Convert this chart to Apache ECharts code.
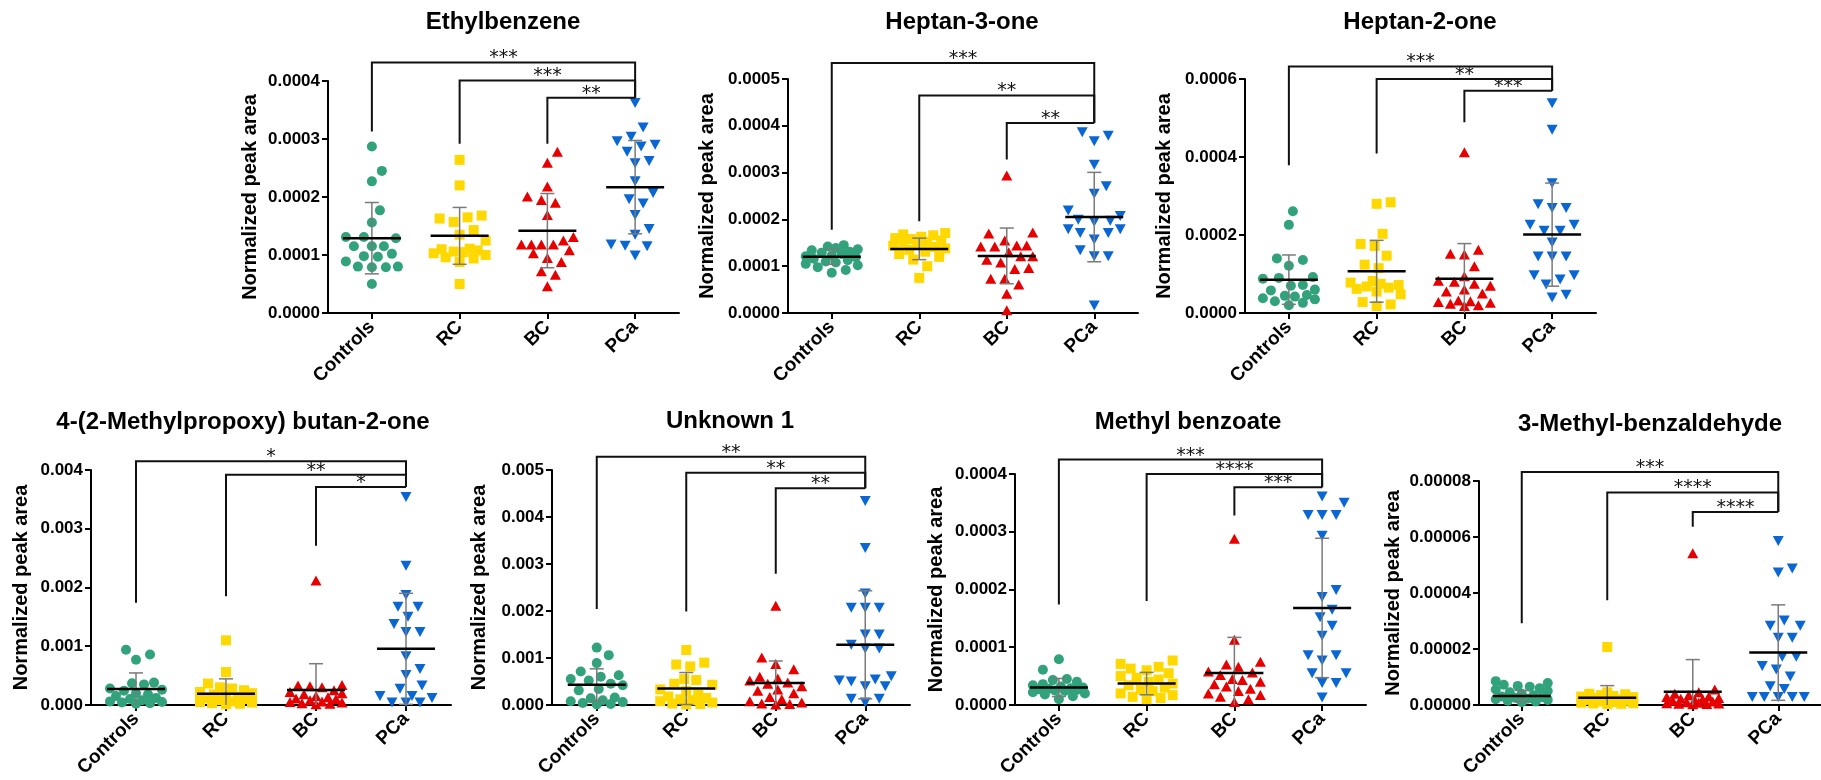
<!DOCTYPE html>
<html>
<head>
<meta charset="utf-8">
<title>Normalized peak area by group</title>
<script src="https://cdn.jsdelivr.net/npm/echarts@6/dist/echarts.min.js"></script>
<style>
  html, body { margin: 0; padding: 0; background: #fff; }
  #chart { width: 1821px; height: 780px; }
</style>
</head>
<body>
<div id="chart"></div>
<script>
'use strict';

var groups = ['Controls', 'RC', 'BC', 'PCa'];
var titles = ['Ethylbenzene', 'Heptan-3-one', 'Heptan-2-one', '4-(2-Methylpropoxy) butan-2-one',
    'Unknown 1', 'Methyl benzoate', '3-Methyl-benzaldehyde'];
var axisMax = [0.0004, 0.0005, 0.0006, 0.004, 0.005, 0.0004, 0.00008];
var axisStep = [0.0001, 0.0001, 0.0002, 0.001, 0.001, 0.0001, 0.00002];
var tickDecimals = [4, 4, 4, 3, 3, 4, 5];

// values per group: Controls, RC, BC, PCa
var ethylbenzeneValues = [
    [2.87e-4, 2.45e-4, 2.27e-4, 1.77e-4, 1.56e-4, 1.31e-4, 1.31e-4, 1.29e-4, 1.15e-4, 1.15e-4, 1.15e-4, 1.02e-4, 0.98e-4, 0.97e-4, 0.89e-4, 0.80e-4, 0.80e-4, 0.79e-4, 0.79e-4, 0.50e-4],
    [2.64e-4, 2.20e-4, 1.68e-4, 1.65e-4, 1.63e-4, 1.57e-4, 1.43e-4, 1.35e-4, 1.25e-4, 1.11e-4, 1.10e-4, 1.08e-4, 1.06e-4, 1.05e-4, 1.03e-4, 1.00e-4, 0.96e-4, 0.94e-4, 0.88e-4, 0.50e-4],
    [2.78e-4, 2.59e-4, 2.18e-4, 2.01e-4, 1.95e-4, 1.90e-4, 1.69e-4, 1.31e-4, 1.25e-4, 1.18e-4, 1.18e-4, 1.18e-4, 1.18e-4, 1.08e-4, 1.03e-4, 0.95e-4, 0.88e-4, 0.72e-4, 0.66e-4, 0.46e-4],
    [3.62e-4, 3.20e-4, 3.04e-4, 2.96e-4, 2.90e-4, 2.87e-4, 2.78e-4, 2.62e-4, 2.58e-4, 2.27e-4, 2.07e-4, 1.96e-4, 1.89e-4, 1.69e-4, 1.45e-4, 1.35e-4, 1.18e-4, 1.16e-4, 1.15e-4, 0.99e-4]
];
var ethylbenzeneMeans = [1.29e-4, 1.33e-4, 1.42e-4, 2.17e-4];
var ethylbenzeneSD = [0.615e-4, 0.49e-4, 0.64e-4, 0.805e-4];
var ethylbenzeneBrackets = [4.32e-4, 4.01e-4, 3.71e-4];
var ethylbenzeneDrops = [3.13e-4, 2.92e-4, 2.92e-4];
var ethylbenzeneStars = ['***', '***', '**'];

var heptan3oneValues = [
    [1.45e-4, 1.42e-4, 1.39e-4, 1.36e-4, 1.34e-4, 1.31e-4, 1.29e-4, 1.26e-4, 1.23e-4, 1.21e-4, 1.19e-4, 1.16e-4, 1.13e-4, 1.10e-4, 1.08e-4, 1.05e-4, 1.02e-4, 0.98e-4, 0.92e-4, 0.86e-4],
    [1.71e-4, 1.68e-4, 1.66e-4, 1.63e-4, 1.60e-4, 1.58e-4, 1.55e-4, 1.52e-4, 1.50e-4, 1.47e-4, 1.44e-4, 1.41e-4, 1.38e-4, 1.35e-4, 1.31e-4, 1.26e-4, 1.20e-4, 1.14e-4, 1.00e-4, 0.75e-4],
    [2.94e-4, 1.72e-4, 1.70e-4, 1.55e-4, 1.44e-4, 1.44e-4, 1.42e-4, 1.42e-4, 1.30e-4, 1.21e-4, 1.21e-4, 1.14e-4, 1.08e-4, 0.96e-4, 0.94e-4, 0.73e-4, 0.73e-4, 0.61e-4, 0.41e-4, 0.06e-4],
    [3.86e-4, 3.79e-4, 3.67e-4, 3.17e-4, 2.71e-4, 2.55e-4, 2.19e-4, 2.07e-4, 1.99e-4, 1.97e-4, 1.95e-4, 1.79e-4, 1.79e-4, 1.71e-4, 1.71e-4, 1.57e-4, 1.34e-4, 1.21e-4, 1.21e-4, 0.16e-4]
];
var heptan3oneMeans = [1.20e-4, 1.37e-4, 1.22e-4, 2.05e-4];
var heptan3oneSD = [0.16e-4, 0.23e-4, 0.595e-4, 0.955e-4];
var heptan3oneBrackets = [5.34e-4, 4.65e-4, 4.06e-4];
var heptan3oneDrops = [1.78e-4, 1.96e-4, 3.28e-4];
var heptan3oneStars = ['***', '**', '**'];

var heptan2oneValues = [
    [2.61e-4, 2.26e-4, 1.40e-4, 1.36e-4, 1.21e-4, 0.92e-4, 0.90e-4, 0.88e-4, 0.72e-4, 0.70e-4, 0.60e-4, 0.58e-4, 0.46e-4, 0.44e-4, 0.42e-4, 0.38e-4, 0.35e-4, 0.30e-4, 0.26e-4, 0.20e-4],
    [2.84e-4, 2.80e-4, 2.03e-4, 1.77e-4, 1.72e-4, 1.47e-4, 1.24e-4, 1.15e-4, 0.82e-4, 0.78e-4, 0.75e-4, 0.72e-4, 0.68e-4, 0.65e-4, 0.62e-4, 0.55e-4, 0.48e-4, 0.28e-4, 0.22e-4, 0.18e-4],
    [4.12e-4, 1.62e-4, 1.52e-4, 1.50e-4, 1.20e-4, 0.94e-4, 0.83e-4, 0.80e-4, 0.75e-4, 0.70e-4, 0.60e-4, 0.55e-4, 0.50e-4, 0.32e-4, 0.30e-4, 0.28e-4, 0.26e-4, 0.24e-4, 0.20e-4, 0.18e-4],
    [5.38e-4, 4.70e-4, 3.33e-4, 2.79e-4, 2.69e-4, 2.69e-4, 2.26e-4, 2.26e-4, 2.11e-4, 2.11e-4, 1.81e-4, 1.45e-4, 1.45e-4, 1.45e-4, 0.97e-4, 0.97e-4, 0.86e-4, 0.73e-4, 0.47e-4, 0.40e-4]
];
var heptan2oneMeans = [0.855e-4, 1.07e-4, 0.88e-4, 2.01e-4];
var heptan2oneSD = [0.633e-4, 0.793e-4, 0.90e-4, 1.323e-4];
var heptan2oneBrackets = [6.32e-4, 6.00e-4, 5.70e-4];
var heptan2oneDrops = [3.79e-4, 4.09e-4, 4.89e-4];
var heptan2oneStars = ['***', '**', '***'];

var methylpropoxyValues = [
    [9.4e-4, 8.6e-4, 7.7e-4, 3.8e-4, 3.7e-4, 3.5e-4, 2.8e-4, 2.6e-4, 2.4e-4, 2.0e-4, 1.8e-4, 1.5e-4, 1.2e-4, 1.0e-4, 0.8e-4, 0.6e-4, 0.5e-4, 0.4e-4, 0.3e-4, 0.2e-4],
    [1.10e-3, 5.6e-4, 3.65e-4, 3.0e-4, 2.8e-4, 2.5e-4, 2.2e-4, 2.0e-4, 1.8e-4, 1.6e-4, 1.4e-4, 1.2e-4, 1.0e-4, 0.8e-4, 0.6e-4, 0.5e-4, 0.4e-4, 0.3e-4, 0.2e-4, 0.1e-4],
    [2.12e-3, 3.4e-4, 3.3e-4, 3.2e-4, 3.0e-4, 2.5e-4, 2.2e-4, 2.0e-4, 1.8e-4, 1.5e-4, 1.3e-4, 1.1e-4, 1.0e-4, 0.8e-4, 0.6e-4, 0.5e-4, 0.4e-4, 0.3e-4, 0.2e-4, 0.1e-4],
    [3.54e-3, 2.37e-3, 1.87e-3, 1.67e-3, 1.67e-3, 1.50e-3, 1.38e-3, 1.24e-3, 1.24e-3, 8.3e-4, 6.1e-4, 5.1e-4, 3.3e-4, 2.75e-4, 1.5e-4, 1.5e-4, 1.2e-4, 0.4e-4, 0.4e-4, 0.4e-4]
];
var methylpropoxyMeans = [2.7e-4, 1.91e-4, 2.53e-4, 9.55e-4];
var methylpropoxySD = [2.75e-4, 2.53e-4, 4.49e-4, 9.45e-4];
var methylpropoxyBrackets = [4.15e-3, 3.92e-3, 3.71e-3];
var methylpropoxyDrops = [1.74e-3, 1.85e-3, 2.71e-3];
var methylpropoxyStars = ['*', '**', '*'];

var unknown1Values = [
    [1.22e-3, 1.06e-3, 8.9e-4, 7.1e-4, 6.3e-4, 6.0e-4, 5.5e-4, 5.2e-4, 4.5e-4, 4.2e-4, 3.4e-4, 3.1e-4, 1.6e-4, 1.4e-4, 1.0e-4, 0.8e-4, 0.6e-4, 0.4e-4, 0.2e-4, 0.1e-4],
    [1.17e-3, 9.0e-4, 8.6e-4, 8.2e-4, 5.5e-4, 5.3e-4, 4.5e-4, 4.3e-4, 3.3e-4, 3.0e-4, 2.2e-4, 1.8e-4, 1.5e-4, 1.2e-4, 1.0e-4, 0.8e-4, 0.5e-4, 0.3e-4, 0.2e-4, 0.1e-4],
    [2.11e-3, 1.01e-3, 8.7e-4, 7.6e-4, 6.0e-4, 5.6e-4, 5.2e-4, 4.8e-4, 4.5e-4, 4.0e-4, 3.3e-4, 3.0e-4, 2.5e-4, 1.7e-4, 1.2e-4, 0.8e-4, 0.5e-4, 0.3e-4, 0.2e-4, 0.1e-4],
    [4.34e-3, 3.34e-3, 2.37e-3, 2.07e-3, 2.07e-3, 2.07e-3, 1.50e-3, 1.50e-3, 1.28e-3, 1.20e-3, 1.20e-3, 6.1e-4, 5.4e-4, 5.2e-4, 5.0e-4, 4.0e-4, 4.0e-4, 1.3e-4, 1.3e-4, 0.5e-4]
];
var unknown1Means = [4.32e-4, 3.49e-4, 4.67e-4, 1.28e-3];
var unknown1SD = [3.36e-4, 3.41e-4, 4.68e-4, 1.15e-3];
var unknown1Brackets = [5.28e-3, 4.94e-3, 4.61e-3];
var unknown1Drops = [2.04e-3, 1.99e-3, 2.79e-3];
var unknown1Stars = ['**', '**', '**'];

var methylBenzoateValues = [
    [0.79e-4, 0.61e-4, 0.45e-4, 0.43e-4, 0.40e-4, 0.36e-4, 0.34e-4, 0.32e-4, 0.30e-4, 0.29e-4, 0.28e-4, 0.27e-4, 0.26e-4, 0.25e-4, 0.24e-4, 0.22e-4, 0.20e-4, 0.18e-4, 0.15e-4, 0.10e-4],
    [0.77e-4, 0.71e-4, 0.66e-4, 0.63e-4, 0.60e-4, 0.55e-4, 0.50e-4, 0.47e-4, 0.44e-4, 0.40e-4, 0.37e-4, 0.34e-4, 0.30e-4, 0.27e-4, 0.24e-4, 0.20e-4, 0.17e-4, 0.14e-4, 0.12e-4, 0.10e-4],
    [2.88e-4, 1.13e-4, 0.75e-4, 0.70e-4, 0.66e-4, 0.58e-4, 0.56e-4, 0.52e-4, 0.45e-4, 0.43e-4, 0.40e-4, 0.36e-4, 0.32e-4, 0.28e-4, 0.24e-4, 0.20e-4, 0.17e-4, 0.14e-4, 0.10e-4, 0.05e-4],
    [3.61e-4, 3.50e-4, 3.29e-4, 3.29e-4, 3.29e-4, 2.93e-4, 1.99e-4, 1.87e-4, 1.65e-4, 1.52e-4, 1.37e-4, 1.20e-4, 0.86e-4, 0.86e-4, 0.77e-4, 0.55e-4, 0.55e-4, 0.38e-4, 0.38e-4, 0.13e-4]
];
var methylBenzoateMeans = [0.302e-4, 0.37e-4, 0.553e-4, 1.68e-4];
var methylBenzoateSD = [0.157e-4, 0.194e-4, 0.617e-4, 1.207e-4];
var methylBenzoateBrackets = [4.25e-4, 4.00e-4, 3.77e-4];
var methylBenzoateDrops = [1.74e-4, 1.80e-4, 3.28e-4];
var methylBenzoateStars = ['***', '****', '***'];

var methylBenzaldehydeValues = [
    [8.5e-6, 7.8e-6, 7.2e-6, 6.8e-6, 6.5e-6, 6.0e-6, 5.5e-6, 5.0e-6, 4.5e-6, 4.0e-6, 3.5e-6, 3.0e-6, 2.8e-6, 2.5e-6, 2.2e-6, 2.0e-6, 1.8e-6, 1.5e-6, 1.2e-6, 1.0e-6],
    [20.7e-6, 4.5e-6, 4.0e-6, 3.8e-6, 3.5e-6, 3.2e-6, 3.0e-6, 2.8e-6, 2.5e-6, 2.2e-6, 2.0e-6, 1.8e-6, 1.5e-6, 1.2e-6, 1.0e-6, 0.8e-6, 0.6e-6, 0.5e-6, 0.4e-6, 0.3e-6],
    [54.2e-6, 5.5e-6, 4.5e-6, 4.0e-6, 3.5e-6, 3.0e-6, 2.8e-6, 2.5e-6, 2.2e-6, 2.0e-6, 1.8e-6, 1.5e-6, 1.2e-6, 1.0e-6, 0.8e-6, 0.6e-6, 0.5e-6, 0.4e-6, 0.3e-6, 0.2e-6],
    [58.6e-6, 48.7e-6, 47.3e-6, 30.2e-6, 28.3e-6, 28.3e-6, 24.0e-6, 24.0e-6, 17.2e-6, 17.2e-6, 13.9e-6, 12.7e-6, 10.2e-6, 6.7e-6, 5.7e-6, 2.8e-6, 2.8e-6, 2.8e-6, 2.8e-6, 2.8e-6]
];
var methylBenzaldehydeMeans = [3.2e-6, 2.6e-6, 4.7e-6, 18.7e-6];
var methylBenzaldehydeSD = [1.95e-6, 4.3e-6, 11.5e-6, 17.05e-6];
var methylBenzaldehydeBrackets = [83.2e-6, 75.9e-6, 68.9e-6];
var methylBenzaldehydeDrops = [29.2e-6, 37.4e-6, 63.7e-6];
var methylBenzaldehydeStars = ['***', '****', '****'];

var panels = [
    { values: ethylbenzeneValues, means: ethylbenzeneMeans, sd: ethylbenzeneSD, brackets: ethylbenzeneBrackets, drops: ethylbenzeneDrops, stars: ethylbenzeneStars },
    { values: heptan3oneValues, means: heptan3oneMeans, sd: heptan3oneSD, brackets: heptan3oneBrackets, drops: heptan3oneDrops, stars: heptan3oneStars },
    { values: heptan2oneValues, means: heptan2oneMeans, sd: heptan2oneSD, brackets: heptan2oneBrackets, drops: heptan2oneDrops, stars: heptan2oneStars },
    { values: methylpropoxyValues, means: methylpropoxyMeans, sd: methylpropoxySD, brackets: methylpropoxyBrackets, drops: methylpropoxyDrops, stars: methylpropoxyStars },
    { values: unknown1Values, means: unknown1Means, sd: unknown1SD, brackets: unknown1Brackets, drops: unknown1Drops, stars: unknown1Stars },
    { values: methylBenzoateValues, means: methylBenzoateMeans, sd: methylBenzoateSD, brackets: methylBenzoateBrackets, drops: methylBenzoateDrops, stars: methylBenzoateStars },
    { values: methylBenzaldehydeValues, means: methylBenzaldehydeMeans, sd: methylBenzaldehydeSD, brackets: methylBenzaldehydeBrackets, drops: methylBenzaldehydeDrops, stars: methylBenzaldehydeStars }
];

// layout
var FONT = '"Liberation Sans", Arial, Helvetica, sans-serif';
var gridRects = [
    { left: 328, top: 81, width: 351, height: 232 },
    { left: 788, top: 79, width: 350, height: 234 },
    { left: 1245, top: 79, width: 351, height: 234 },
    { left: 91, top: 470, width: 360, height: 237 },
    { left: 552, top: 470, width: 358, height: 239 },
    { left: 1015, top: 474, width: 351, height: 234 },
    { left: 1479, top: 481, width: 342, height: 228 }
];
var nameGaps = [68, 71, 71, 60, 63, 69, 76];
var titleSpots = [[503, 22], [962, 22], [1420, 22], [243, 422], [730, 421], [1188, 422], [1650, 424]];

var markers = [
    { symbol: 'circle', size: 10, rotate: 0, color: '#31a27c' },
    { symbol: 'rect', size: 10, rotate: 0, color: '#ffd800' },
    { symbol: 'triangle', size: [11, 10], rotate: 0, color: '#e60000' },
    { symbol: 'triangle', size: [11, 10], rotate: 180, color: '#0a66d2' }
];

var SWARM_STEP = 2;
var SWARM_HALF = 26;
var SWARM_DIAM = 14;
var MEAN_HALF = 29;
var CAP_HALF = 7;

// simple beeswarm: push each point sideways until it clears the ones already placed
function swarmOffsets(values, pxPerUnit) {
    var order = values.map(function (v, i) { return i; })
        .sort(function (a, b) { return values[a] - values[b]; });
    var placed = [];
    var offsets = new Array(values.length);

    order.forEach(function (i) {
        var y = values[i] * pxPerUnit;
        var best = 0;
        var bestGap = -Infinity;
        var maxSteps = Math.floor(SWARM_HALF / SWARM_STEP);

        for (var k = 0; k <= 2 * maxSteps; k++) {
            var x = Math.ceil(k / 2) * (k % 2 ? 1 : -1) * SWARM_STEP;
            var minD = Infinity;
            placed.forEach(function (p) {
                var d = Math.sqrt((p.x - x) * (p.x - x) + (p.y - y) * (p.y - y));
                if (d < minD) {
                    minD = d;
                }
            });
            if (minD >= SWARM_DIAM) {
                best = x;
                break;
            }
            if (minD > bestGap) {
                bestGap = minD;
                best = x;
            }
        }

        placed.push({ x: best, y: y });
        offsets[i] = best;
    });

    return offsets;
}

function renderSummary(params, api) {
    var idx = api.value(0);
    var mean = api.value(1);
    var sd = api.value(2);
    var c = api.coord([idx, mean]);
    var hi = api.coord([idx, mean + sd]);
    var lo = api.coord([idx, Math.max(0, mean - sd)]);
    var gray = { stroke: '#7a7a7a', lineWidth: 1.5 };
    var children = [
        { type: 'line', shape: { x1: c[0], y1: hi[1], x2: c[0], y2: lo[1] }, style: gray },
        { type: 'line', shape: { x1: c[0] - CAP_HALF, y1: hi[1], x2: c[0] + CAP_HALF, y2: hi[1] }, style: gray }
    ];
    if (mean - sd > 0) {
        children.push({ type: 'line', shape: { x1: c[0] - CAP_HALF, y1: lo[1], x2: c[0] + CAP_HALF, y2: lo[1] }, style: gray });
    }
    children.push({
        type: 'line',
        shape: { x1: c[0] - MEAN_HALF, y1: c[1], x2: c[0] + MEAN_HALF, y2: c[1] },
        style: { stroke: '#000', lineWidth: 2.5 }
    });
    return { type: 'group', children: children };
}

function makeBracketRenderer(panel) {
    var lowest = Math.min.apply(null, panel.brackets);
    return function (params, api) {
        var from = api.value(0);
        var level = api.value(1);
        var drop = api.value(2);
        var last = groups.length - 1;
        var a = api.coord([from, drop]);
        var b = api.coord([from, level]);
        var r = api.coord([last, level]);
        var rLow = api.coord([last, lowest]);
        return {
            type: 'group',
            children: [
                {
                    type: 'polyline',
                    shape: { points: [[a[0], a[1]], [b[0], b[1]], [r[0], r[1]], [rLow[0], rLow[1]]] },
                    style: { stroke: '#111', lineWidth: 2, fill: null }
                },
                {
                    type: 'text',
                    x: (b[0] + r[0]) / 2,
                    y: b[1] - 4,
                    style: {
                        text: panel.stars[params.dataIndex],
                        fill: '#111',
                        fontSize: 19,
                        fontFamily: '"DejaVu Sans", sans-serif',
                        align: 'center',
                        verticalAlign: 'middle',
                        textAlign: 'center',
                        textVerticalAlign: 'middle'
                    }
                }
            ]
        };
    };
}

var option = {
    animation: false,
    backgroundColor: '#fff',
    grid: [],
    xAxis: [],
    yAxis: [],
    series: [],
    graphic: []
};

panels.forEach(function (panel, k) {
    var rect = gridRects[k];
    option.grid.push({ left: rect.left, top: rect.top, width: rect.width, height: rect.height });

    option.xAxis.push({
        type: 'category',
        gridIndex: k,
        data: groups,
        boundaryGap: true,
        axisLine: { show: true, lineStyle: { color: '#000', width: 2 } },
        axisTick: { show: true, alignWithLabel: true, length: 6, lineStyle: { color: '#000', width: 2 } },
        axisLabel: {
            rotate: 45,
            margin: 11,
            color: '#000',
            fontSize: 19,
            fontWeight: 'bold',
            fontFamily: FONT
        },
        splitLine: { show: false }
    });

    option.yAxis.push({
        type: 'value',
        gridIndex: k,
        min: 0,
        max: axisMax[k],
        interval: axisStep[k],
        name: 'Normalized peak area',
        nameLocation: 'middle',
        nameGap: nameGaps[k],
        nameTextStyle: { color: '#000', fontSize: 20, fontWeight: 'bold', fontFamily: FONT },
        axisLine: { show: true, lineStyle: { color: '#000', width: 2 } },
        axisTick: { show: true, length: 6, lineStyle: { color: '#000', width: 2 } },
        axisLabel: {
            margin: 8,
            color: '#000',
            fontSize: 17,
            fontWeight: 'bold',
            fontFamily: FONT,
            formatter: function (v) { return v.toFixed(tickDecimals[k]); }
        },
        splitLine: { show: false }
    });

    var pxPerUnit = rect.height / axisMax[k];
    panel.values.forEach(function (vals, g) {
        var offs = swarmOffsets(vals, pxPerUnit);
        var m = markers[g];
        option.series.push({
            type: 'scatter',
            name: titles[k] + ' ' + groups[g],
            xAxisIndex: k,
            yAxisIndex: k,
            symbol: m.symbol,
            symbolSize: m.size,
            symbolRotate: m.rotate,
            itemStyle: { color: m.color, opacity: 1 },
            clip: false,
            z: 2,
            data: vals.map(function (v, i) {
                return { value: [g, v], symbolOffset: [offs[i], 0] };
            })
        });
    });

    option.series.push({
        type: 'custom',
        xAxisIndex: k,
        yAxisIndex: k,
        clip: false,
        z: 3,
        encode: { x: 0, y: 1 },
        renderItem: renderSummary,
        data: panel.means.map(function (mean, g) { return [g, mean, panel.sd[g]]; })
    });

    option.series.push({
        type: 'custom',
        xAxisIndex: k,
        yAxisIndex: k,
        clip: false,
        z: 3,
        encode: { x: 0, y: 1 },
        renderItem: makeBracketRenderer(panel),
        data: panel.brackets.map(function (level, j) { return [j, level, panel.drops[j]]; })
    });

    option.graphic.push({
        type: 'text',
        x: titleSpots[k][0],
        y: titleSpots[k][1],
        style: {
            text: titles[k],
            fill: '#000',
            fontSize: 24,
            fontWeight: 'bold',
            fontFamily: FONT,
            align: 'center',
            verticalAlign: 'middle',
            textAlign: 'center',
            textVerticalAlign: 'middle'
        }
    });
});

var chart = echarts.init(document.getElementById('chart'), null, { renderer: 'canvas' });
chart.setOption(option);
</script>
</body>
</html>
